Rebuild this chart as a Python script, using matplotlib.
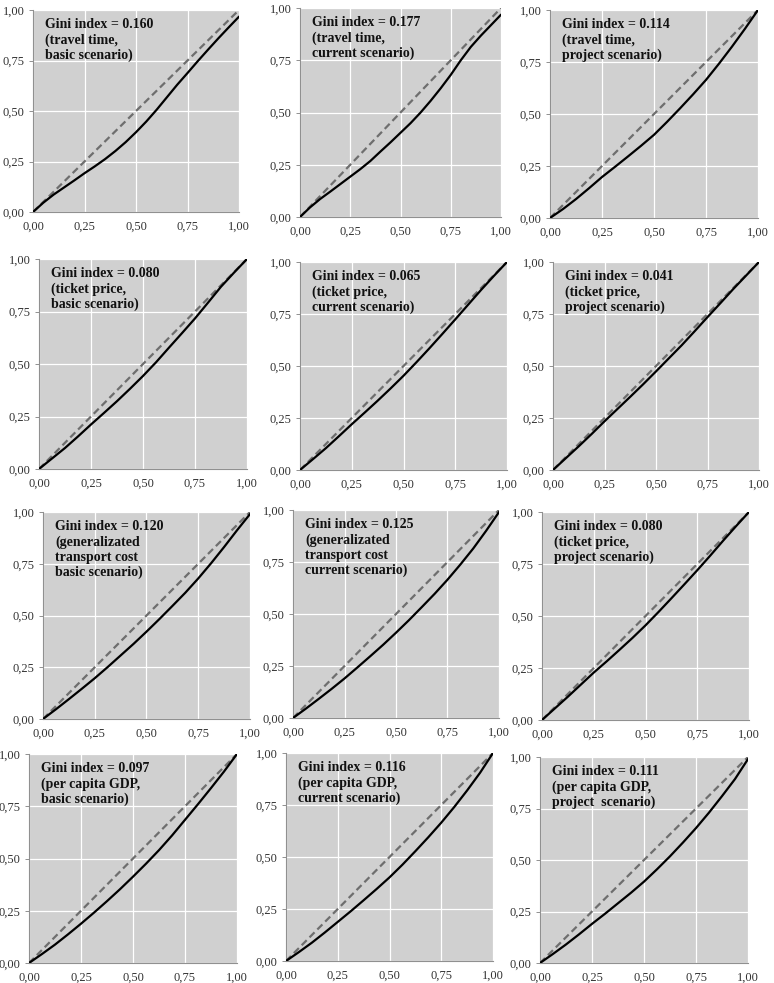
import numpy as np
import matplotlib
matplotlib.use("Agg")
import matplotlib.pyplot as plt

# population share (x) and cumulative share (y)
x_fine = [0, 0.05, 0.1, 0.15, 0.2, 0.25, 0.3, 0.35, 0.4, 0.45, 0.5, 0.55, 0.6,
          0.65, 0.7, 0.75, 0.8, 0.85, 0.9, 0.95, 1.0]
x_std = [0, 0.0625, 0.125, 0.1875, 0.25, 0.3125, 0.375, 0.4375, 0.5, 0.5625,
         0.625, 0.6875, 0.75, 0.8125, 0.875, 0.9375, 1.0]

y_tt_basic = [0, 0.046, 0.086, 0.121, 0.156, 0.192, 0.226, 0.262, 0.302, 0.346,
              0.395, 0.448, 0.506, 0.568, 0.630, 0.688, 0.747, 0.804, 0.860, 0.914, 0.967]
y_tt_current = [0, 0.046, 0.086, 0.121, 0.157, 0.193, 0.229, 0.268, 0.313, 0.357,
                0.403, 0.449, 0.500, 0.556, 0.616, 0.680, 0.750, 0.814, 0.868, 0.918, 0.968]
y_tt_project = [0, 0.043, 0.091, 0.143, 0.197, 0.246, 0.296, 0.347, 0.400, 0.462,
                0.527, 0.594, 0.664, 0.742, 0.824, 0.910, 1.0]
y_tp_basic = [0, 0.050, 0.100, 0.155, 0.212, 0.267, 0.323, 0.382, 0.443, 0.508,
              0.578, 0.647, 0.717, 0.792, 0.868, 0.935, 1.0]
y_tp_current = [0, 0.052, 0.105, 0.162, 0.220, 0.276, 0.333, 0.392, 0.453, 0.518,
                0.585, 0.654, 0.724, 0.795, 0.866, 0.934, 1.0]
y_tp_project = [0, 0.057, 0.114, 0.173, 0.234, 0.293, 0.352, 0.412, 0.474, 0.537,
                0.600, 0.667, 0.735, 0.802, 0.870, 0.935, 1.0]
y_gc_basic = [0, 0.047, 0.096, 0.146, 0.197, 0.251, 0.307, 0.363, 0.422, 0.483,
              0.546, 0.610, 0.679, 0.753, 0.831, 0.912, 0.99]
y_gc_current = [0, 0.045, 0.092, 0.140, 0.190, 0.243, 0.297, 0.352, 0.410, 0.470,
                0.533, 0.597, 0.665, 0.738, 0.815, 0.900, 0.99]
y_tp_project2 = [0, 0.056, 0.112, 0.170, 0.228, 0.282, 0.338, 0.395, 0.455, 0.519,
                 0.585, 0.652, 0.720, 0.790, 0.862, 0.932, 1.0]
y_gdp_basic = [0, 0.043, 0.088, 0.137, 0.188, 0.241, 0.296, 0.353, 0.413, 0.475,
               0.540, 0.610, 0.685, 0.760, 0.837, 0.916, 1.0]
y_gdp_current = [0, 0.043, 0.088, 0.137, 0.188, 0.239, 0.292, 0.346, 0.402, 0.463,
                 0.528, 0.595, 0.665, 0.740, 0.820, 0.905, 1.0]
y_gdp_project = [0, 0.044, 0.090, 0.139, 0.190, 0.239, 0.290, 0.341, 0.395, 0.455,
                 0.518, 0.585, 0.655, 0.730, 0.810, 0.893, 0.99]

labels = [
    "Gini index = 0.160\n(travel time,\nbasic scenario)",
    "Gini index = 0.177\n(travel time,\ncurrent scenario)",
    "Gini index = 0.114\n(travel time,\nproject scenario)",
    "Gini index = 0.080\n(ticket price,\nbasic scenario)",
    "Gini index = 0.065\n(ticket price,\ncurrent scenario)",
    "Gini index = 0.041\n(ticket price,\nproject scenario)",
    "Gini index = 0.120\n(generalizated\ntransport cost\nbasic scenario)",
    "Gini index = 0.125\n(generalizated\ntransport cost\ncurrent scenario)",
    "Gini index = 0.080\n(ticket price,\nproject scenario)",
    "Gini index = 0.097\n(per capita GDP,\nbasic scenario)",
    "Gini index = 0.116\n(per capita GDP,\ncurrent scenario)",
    "Gini index = 0.111\n(per capita GDP,\nproject  scenario)",
]
curves = [
    (x_fine, y_tt_basic), (x_fine, y_tt_current), (x_std, y_tt_project),
    (x_std, y_tp_basic), (x_std, y_tp_current), (x_std, y_tp_project),
    (x_std, y_gc_basic), (x_std, y_gc_current), (x_std, y_tp_project2),
    (x_std, y_gdp_basic), (x_std, y_gdp_current), (x_std, y_gdp_project),
]
ticks = [0, 0.25, 0.5, 0.75, 1.0]
tick_labels = ["0,00", "0,25", "0,50", "0,75", "1,00"]

# panel boxes in pixels: left, top, right, bottom (panels were pasted unevenly)
boxes = [
    (33, 10, 239, 212), (300, 8, 501, 217), (550, 10, 758, 218),
    (39, 259, 247, 469), (300, 262, 507, 470), (553, 262, 759, 470),
    (43, 512, 250, 719), (293, 510, 499, 718), (542, 512, 749, 720),
    (29, 754, 237, 963), (286, 753, 493, 961), (540, 757, 748, 963),
]

W, H = 774, 983
fig = plt.figure(figsize=(W / 100, H / 100), dpi=100)
plt.rcParams['font.family'] = ['Liberation Serif', 'DejaVu Serif']

for (l, t, r, b), (xs, ys), lab in zip(boxes, curves, labels):
    ax = fig.add_axes([l / W, 1 - b / H, (r - l) / W, (b - t) / H])
    ax.set_facecolor("#d0d0d0")
    ax.plot([0, 1], [0, 1], color="#6e6e6e", lw=1.6, ls=(0, (3.2, 1.8)), zorder=3)
    ax.plot(xs, ys, color="black", lw=1.6, zorder=4, solid_capstyle="round",
            solid_joinstyle="round")
    ax.set_xlim(0, 1)
    ax.set_ylim(0, 1)
    ax.set_xticks(ticks)
    ax.set_yticks(ticks)
    ax.set_xticklabels(tick_labels)
    ax.set_yticklabels(tick_labels)
    ax.grid(True, color="white", lw=0.9)
    ax.set_axisbelow(True)
    for s in ["top", "right"]:
        ax.spines[s].set_visible(False)
    for s in ["left", "bottom"]:
        ax.spines[s].set_color("#909090")
        ax.spines[s].set_linewidth(0.8)
    ax.tick_params(axis="both", labelsize=9, colors="#333333", length=3,
                   width=0.7, color="#909090", pad=3)
    ax.tick_params(axis="x", length=0, pad=6)
    ax.text(0.058, 0.96, lab, transform=ax.transAxes, ha="left", va="top",
            fontsize=10, fontweight="bold", color="#111111", linespacing=1.2,
            zorder=5)

fig.savefig("out.png", dpi=100)
